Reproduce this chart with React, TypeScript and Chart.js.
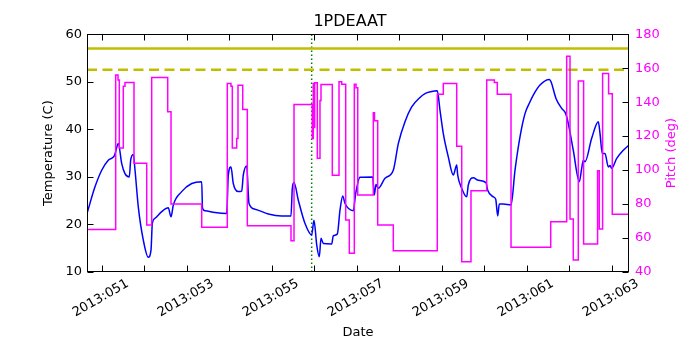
import React, { useEffect, useRef } from 'react';
import { Chart, registerables } from 'chart.js';

Chart.register(...registerables);

const YEAR = 2013;
const X_MIN = 50.654;
const X_MAX = 63.407;
const dayTicks = [51, 52, 53, 54, 55, 56, 57, 58, 59, 60, 61, 62, 63];

const tempDays = [
  50.654, 50.842, 51.0, 51.155, 51.296, 51.325, 51.391, 51.471, 51.548, 51.649,
  51.682, 51.744, 51.784, 51.861, 51.979, 52.096, 52.16, 52.191, 52.254, 52.412,
  52.567, 52.631, 52.685, 52.882, 53.118, 53.353, 53.372, 53.431, 53.666, 53.941,
  53.979, 54.042, 54.096, 54.214, 54.294, 54.332, 54.412, 54.466, 54.607, 54.92,
  55.235, 55.454, 55.485, 55.525, 55.626, 55.784, 55.941, 55.995, 56.059, 56.12,
  56.16, 56.214, 56.412, 56.449, 56.544, 56.607, 56.671, 56.725, 56.92, 56.976,
  57.078, 57.376, 57.414, 57.454, 57.508, 57.666, 57.861, 57.979, 58.136, 58.294,
  58.489, 58.607, 58.74, 58.896, 58.96, 59.038, 59.155, 59.273, 59.353, 59.376,
  59.471, 59.588, 59.626, 59.744, 59.861, 60.042, 60.082, 60.214, 60.271, 60.318,
  60.355, 60.449, 60.631, 60.725, 60.842, 60.96, 61.078, 61.155, 61.313, 61.532,
  61.572, 61.689, 61.824, 61.918, 61.979, 62.096, 62.238, 62.294, 62.332, 62.372,
  62.529, 62.685, 62.725, 62.779, 62.842, 62.92, 62.96, 63.0, 63.118, 63.273,
  63.407,
];
const tempValues = [
  22.3, 27.9, 31.4, 33.5, 34.4, 35.2, 37.0, 32.8, 30.7, 30.0,
  33.5, 34.7, 31.4, 23.7, 16.7, 13.1, 14.6, 20.2, 21.3, 22.7,
  23.5, 21.6, 24.1, 26.9, 28.6, 29.0, 23.4, 22.9, 22.5, 22.3,
  30.4, 32.1, 28.6, 26.9, 27.0, 30.4, 32.3, 24.4, 23.2, 22.2,
  21.8, 21.8, 27.6, 28.8, 25.1, 20.2, 17.8, 20.9, 15.7, 13.2,
  17.1, 16.0, 15.9, 17.6, 18.0, 23.0, 26.0, 24.4, 22.9, 26.5,
  29.9, 30.0, 26.2, 28.4, 27.6, 29.7, 31.4, 37.0, 41.6, 44.7,
  46.7, 47.5, 47.9, 48.1, 44.0, 39.1, 34.2, 30.4, 32.5, 30.4,
  27.6, 25.8, 28.3, 29.8, 29.3, 28.8, 27.2, 25.8, 25.3, 21.8,
  24.3, 24.3, 24.1, 31.4, 38.4, 43.3, 45.8, 47.2, 49.3, 50.5,
  50.0, 46.5, 44.4, 43.3, 41.2, 35.6, 29.0, 31.8, 33.5, 33.2,
  38.1, 41.6, 39.1, 34.9, 34.9, 32.1, 32.4, 31.8, 33.9, 35.6,
  36.7,
];

const pitchDays = [
  50.654, 51.329, 51.384, 51.414, 51.508, 51.548, 51.76, 52.059, 52.176, 52.553,
  52.631, 53.353, 53.955, 54.042, 54.073, 54.176, 54.207, 54.318, 54.426, 55.454,
  55.525, 55.955, 55.979, 55.995, 56.011, 56.073, 56.136, 56.16, 56.426, 56.584,
  56.647, 56.741, 56.826, 56.944, 56.984, 57.024, 57.391, 57.419, 57.494, 57.861,
  58.896, 59.038, 59.353, 59.471, 59.689, 60.059, 60.238, 60.308, 60.631, 61.565,
  61.941, 62.019, 62.096, 62.214, 62.339, 62.668, 62.708, 62.786, 62.927, 63.014,
  63.407,
];
const pitchValues = [
  65, 156, 153, 113, 149.4, 151.6, 104, 67.6, 154.5, 134.3,
  80, 66.3, 151, 149.4, 113, 118.6, 150, 135.7, 67.2, 58.4,
  138.6, 118.6, 151, 125, 151.4, 106.9, 141, 150.4, 97, 152,
  150.6, 70.6, 51, 150.6, 148.5, 85.3, 133.7, 129, 67.6, 52.5,
  144.7, 151, 114, 46, 87.8, 153, 151.5, 144.7, 54.5, 69.6,
  167, 71.2, 47, 152.4, 56.5, 99.6, 65.3, 156.9, 145, 74,
  74,
];

const limitSolid = 57;
const limitDashed = 52.5;
const markerDay = 55.94;

const TEMP_MIN = 10;
const TEMP_MAX = 60;
const PITCH_MIN = 40;
const PITCH_MAX = 180;

const FONT = 'DejaVu Sans';
const MAGENTA = '#ff00ff';

const frameTicks = {
  id: 'frameTicks',
  afterDraw(chart: any) {
    const { ctx, chartArea: a, scales } = chart;
    const L = Math.round(a.left) + 0.5;
    const R = Math.round(a.right) - 0.5;
    const T = Math.round(a.top) + 0.5;
    const B = Math.round(a.bottom) - 0.5;
    const len = 6;
    ctx.save();
    ctx.strokeStyle = '#000';
    ctx.lineWidth = 1;
    ctx.beginPath();
    scales.x.ticks.forEach((t: any) => {
      const px = Math.round(scales.x.getPixelForValue(t.value)) + 0.5;
      ctx.moveTo(px, B);
      ctx.lineTo(px, B - len);
      ctx.moveTo(px, T);
      ctx.lineTo(px, T + len);
    });
    scales.y.ticks.forEach((t: any) => {
      const py = Math.round(scales.y.getPixelForValue(t.value)) + 0.5;
      ctx.moveTo(L, py);
      ctx.lineTo(L + len, py);
    });
    scales.y2.ticks.forEach((t: any) => {
      const py = Math.round(scales.y2.getPixelForValue(t.value)) + 0.5;
      ctx.moveTo(R, py);
      ctx.lineTo(R - len, py);
    });
    ctx.stroke();
    ctx.strokeRect(L, T, R - L, B - T);
    // right axis title, reading bottom to top
    ctx.fillStyle = MAGENTA;
    ctx.font = `13px "${FONT}"`;
    ctx.textAlign = 'center';
    ctx.textBaseline = 'middle';
    ctx.translate(scales.y2.right - 28, (a.top + a.bottom) / 2);
    ctx.rotate(-Math.PI / 2);
    ctx.fillText('Pitch (deg)', 0, 0);
    ctx.restore();
  },
};

export default function App() {
  const ref = useRef<HTMLCanvasElement | null>(null);

  useEffect(() => {
    if (!ref.current) return;
    const tempData = tempDays.map((d, i) => ({ x: d, y: tempValues[i] }));
    const pitchData = pitchDays.map((d, i) => ({ x: d, y: pitchValues[i] }));
    const chart = new Chart(ref.current, {
      type: 'line',
      data: {
        datasets: [
          {
            label: 'Pitch',
            data: pitchData,
            yAxisID: 'y2',
            borderColor: MAGENTA,
            borderWidth: 1.5,
            stepped: true,
            pointRadius: 0,
            fill: false,
          },
          {
            label: 'Temperature',
            data: tempData,
            yAxisID: 'y',
            borderColor: '#0000ff',
            borderWidth: 1.5,
            cubicInterpolationMode: 'monotone',
            pointRadius: 0,
            fill: false,
          },
          {
            label: 'limit',
            data: [{ x: X_MIN, y: limitSolid }, { x: X_MAX, y: limitSolid }],
            yAxisID: 'y',
            borderColor: '#bfbf00',
            borderWidth: 2.5,
            pointRadius: 0,
          },
          {
            label: 'limit2',
            data: [{ x: X_MIN, y: limitDashed }, { x: X_MAX, y: limitDashed }],
            yAxisID: 'y',
            borderColor: '#bfbf00',
            borderWidth: 2.5,
            borderDash: [10, 5.5],
            pointRadius: 0,
          },
          {
            label: 'marker',
            data: [{ x: markerDay, y: TEMP_MIN }, { x: markerDay, y: TEMP_MAX }],
            yAxisID: 'y',
            borderColor: '#008000',
            borderWidth: 1.5,
            borderDash: [1.5, 2.5],
            pointRadius: 0,
          },
        ],
      },
      options: {
        responsive: false,
        animation: false,
        devicePixelRatio: 1,
        layout: { padding: 0 },
        plugins: {
          legend: { display: false },
          tooltip: { enabled: false },
          title: {
            display: true,
            text: '1PDEAAT',
            color: '#000',
            font: { family: FONT, size: 16, weight: 'normal' },
            padding: { top: 12, bottom: 3 },
          },
        },
        scales: {
          x: {
            type: 'linear',
            min: X_MIN,
            max: X_MAX,
            grid: { display: false, drawTicks: false },
            border: { display: false },
            afterBuildTicks: (s: any) => {
              s.ticks = dayTicks.map((v) => ({ value: v }));
            },
            ticks: {
              autoSkip: false,
              minRotation: 30,
              maxRotation: 30,
              labelOffset: 26,
              padding: 4,
              color: '#000',
              font: { family: FONT, size: 13 },
              callback: (v: any) => {
                const d = Math.round(Number(v));
                if (d % 2 === 0) return '';
                return `${YEAR}:${String(d).padStart(3, '0')}`;
              },
            },
            title: {
              display: true,
              text: 'Date',
              color: '#000',
              font: { family: FONT, size: 13 },
              padding: { top: 0, bottom: 10 },
            },
            afterFit: (s: any) => {
              s.height = 78;
            },
          },
          y: {
            type: 'linear',
            position: 'left',
            min: TEMP_MIN,
            max: TEMP_MAX,
            grid: { display: false, drawTicks: false },
            border: { display: false },
            ticks: {
              stepSize: 10,
              padding: 5,
              color: '#000',
              font: { family: FONT, size: 13 },
            },
            title: {
              display: true,
              text: 'Temperature (C)',
              color: '#000',
              font: { family: FONT, size: 13 },
              padding: { top: 41, bottom: 0 },
            },
            afterFit: (s: any) => {
              s.width = 87;
            },
          },
          y2: {
            type: 'linear',
            position: 'right',
            min: PITCH_MIN,
            max: PITCH_MAX,
            grid: { display: false, drawTicks: false },
            border: { display: false },
            ticks: {
              stepSize: 20,
              padding: 6,
              color: MAGENTA,
              font: { family: FONT, size: 13 },
            },
            afterFit: (s: any) => {
              s.width = 71;
            },
          },
        },
      },
      plugins: [frameTicks],
    });
    return () => chart.destroy();
  }, []);

  return (
    <div style={{ position: 'absolute', left: 0, top: 0, width: 700, height: 350, background: '#fff' }}>
      <canvas ref={ref} width={700} height={350} />
    </div>
  );
}
